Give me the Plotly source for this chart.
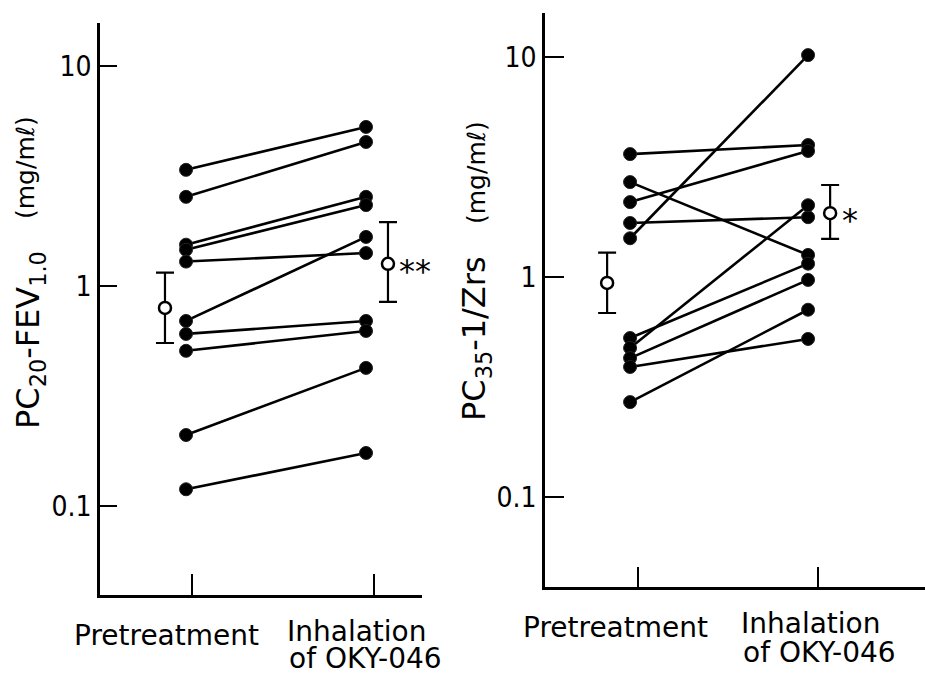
import math
import plotly.graph_objects as go

# ---- data ----
groups = ["Pretreatment", "Inhalation of OKY-046"]

left_pre = [3.37, 2.54, 1.54, 1.46, 1.29, 0.693, 0.605, 0.507, 0.21, 0.119]
left_post = [5.28, 4.51, 2.54, 2.33, 1.41, 1.67, 0.693, 0.624, 0.424, 0.174]
left_mean = [0.794, 1.26]
left_hi = [1.15, 1.95]
left_lo = [0.55, 0.846]

right_pre = [3.62, 2.70, 2.19, 1.76, 1.50, 0.528, 0.476, 0.428, 0.39, 0.27]
right_post = [3.98, 1.26, 3.74, 1.87, 10.2, 1.15, 2.12, 0.97, 0.523, 0.71]
right_mean = [0.94, 1.95]
right_hi = [1.29, 2.62]
right_lo = [0.686, 1.49]

y_ticks = [0.1, 1, 10]
y_ticktext = ["0.1", "1", "10"]
unit_text = "(mg/mℓ)"

W, H = 925, 676
TICKFONT = dict(family="Liberation Sans Narrow, DejaVu Sans Condensed, Arial Narrow, sans-serif",
                size=28, color="black")
LABFONT = dict(family="DejaVu Sans, sans-serif", size=28, color="black")

fig = go.Figure()


def add_panel(pre, post, mean, hi, lo, xa, ya, mean_x):
    xs, ys = [], []
    for a, b in zip(pre, post):
        xs += [0, 1, None]
        ys += [a, b, None]
    fig.add_trace(go.Scatter(x=xs, y=ys, mode="lines+markers", xaxis=xa, yaxis=ya,
                             line=dict(color="black", width=2.6),
                             marker=dict(color="black", size=13,
                                         line=dict(color="#222", width=1)),
                             hoverinfo="skip"))
    fig.add_trace(go.Scatter(x=mean_x, y=mean, mode="markers", xaxis=xa, yaxis=ya,
                             marker=dict(color="white", size=12, symbol="circle",
                                         line=dict(color="black", width=2.5)),
                             error_y=dict(type="data", symmetric=False,
                                          array=[h - m for h, m in zip(hi, mean)],
                                          arrayminus=[m - l for m, l in zip(mean, lo)],
                                          color="black", thickness=2.2, width=9),
                             hoverinfo="skip"))


add_panel(left_pre, left_post, left_mean, left_hi, left_lo, "x", "y", [-0.117, 1.122])
add_panel(right_pre, right_post, right_mean, right_hi, right_lo, "x2", "y2", [-0.129, 1.124])

axis_common = dict(showline=True, linecolor="black", linewidth=2.6, showgrid=False,
                   zeroline=False, ticks="inside", tickwidth=2, tickcolor="black")

fig.update_layout(
    width=W, height=H, margin=dict(l=0, r=0, t=0, b=0),
    paper_bgcolor="white", plot_bgcolor="white", showlegend=False,
    xaxis=dict(domain=[100 / W, 422 / W], range=[-0.478, 1.311], anchor="y",
               tickvals=[0.033, 1.044], ticklen=21, showticklabels=False, **axis_common),
    yaxis=dict(domain=[81 / H, 653 / H], range=[-1.405, 1.195], type="log", anchor="x",
               tickvals=y_ticks, ticktext=y_ticktext, ticklen=17, tickfont=TICKFONT,
               **axis_common),
    xaxis2=dict(domain=[545 / W, 1.0], range=[-0.478, 1.657], anchor="y2",
                tickvals=[0.045, 1.056], ticklen=20, showticklabels=False, **axis_common),
    yaxis2=dict(domain=[89 / H, 663 / H], range=[-1.409, 1.2], type="log", anchor="x2",
                tickvals=y_ticks, ticktext=y_ticktext, ticklen=19, tickfont=TICKFONT,
                **axis_common),
)

ann = []
TITLEFONT = dict(family="DejaVu Sans, sans-serif", size=32, color="black")
UNITFONT = dict(family="DejaVu Sans, sans-serif", size=25, color="black")


def ytitle(text, xc, yc_main, xu, yc_unit):
    ann.append(dict(xref="paper", yref="paper", x=xc / W, y=(H - yc_main) / H, textangle=-90,
                    showarrow=False, xanchor="center", yanchor="middle", text=text,
                    font=TITLEFONT))
    ann.append(dict(xref="paper", yref="paper", x=xu / W, y=(H - yc_unit) / H, textangle=-90,
                    showarrow=False, xanchor="center", yanchor="middle", text=unit_text,
                    font=UNITFONT))


ytitle("PC<sub>20</sub>-FEV<sub>1.0</sub>", 30, 340, 25, 168)
ytitle("PC<sub>35</sub>-1/Zrs", 476, 338, 477, 172)


# category labels
def cat_labels(x_pre, y_pre, x_inh, y_inh, y_of):
    ann.append(dict(xref="paper", yref="paper", x=x_pre / W, y=(H - y_pre) / H,
                    text=groups[0], showarrow=False, xanchor="center", yanchor="middle",
                    font=LABFONT, borderpad=0))
    words = groups[1].split(" ", 1)
    ann.append(dict(xref="paper", yref="paper", x=x_inh / W, y=(H - y_inh) / H,
                    text=words[0], showarrow=False, xanchor="left", yanchor="middle",
                    font=LABFONT, borderpad=0))
    ann.append(dict(xref="paper", yref="paper", x=(x_inh + 2) / W, y=(H - y_of) / H,
                    text=words[1], showarrow=False, xanchor="left", yanchor="middle",
                    font=LABFONT, borderpad=0))


cat_labels(166, 635, 286, 631, 658)
cat_labels(615, 627, 740, 623, 652)

# significance marks
ann.append(dict(xref="x", yref="y", x=1.122, y=math.log10(left_mean[1]), text="**",
                showarrow=False, xanchor="left", yanchor="middle", xshift=9, yshift=-7,
                font=dict(family="DejaVu Sans, sans-serif", size=32, color="black")))
ann.append(dict(xref="x2", yref="y2", x=1.124, y=math.log10(right_mean[1]), text="*",
                showarrow=False, xanchor="left", yanchor="middle", xshift=10, yshift=-7,
                font=dict(family="DejaVu Sans, sans-serif", size=32, color="black")))

fig.update_layout(annotations=ann)
fig.write_html("out.html")
